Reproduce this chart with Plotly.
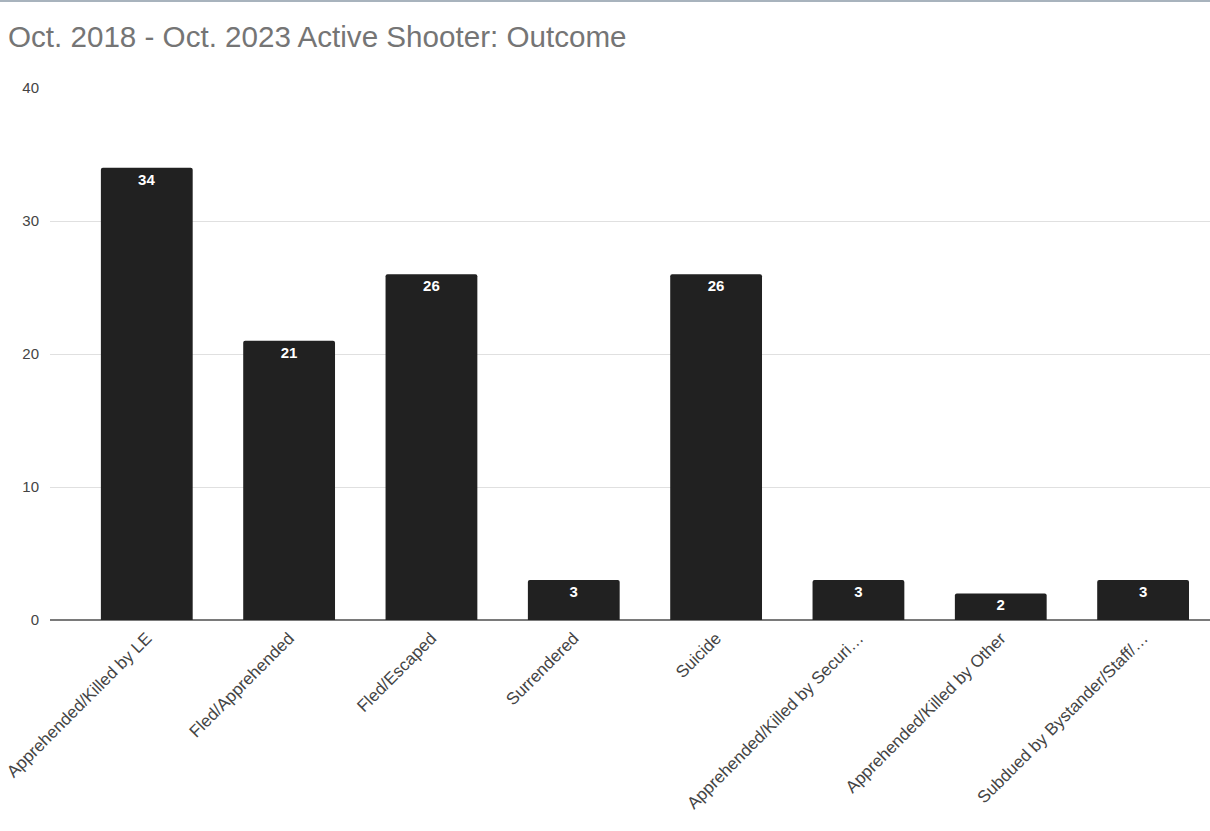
import plotly.graph_objects as go

categories = [
    "Apprehended/Killed by LE",
    "Fled/Apprehended",
    "Fled/Escaped",
    "Surrendered",
    "Suicide",
    "Apprehended/Killed by Securi…",
    "Apprehended/Killed by Other",
    "Subdued by Bystander/Staff/…",
]
counts = [34, 21, 26, 3, 26, 3, 2, 3]
y_ticks = [0, 10, 20, 30, 40]

W, H = 1210, 831
M_L, M_R, M_T, M_B = 50, 0, 88, 211
plot_h = H - M_T - M_B
FONT = "Arial, Liberation Sans, sans-serif"

fig = go.Figure(
    go.Bar(
        x=categories,
        y=counts,
        text=[str(v) for v in counts],
        textposition="inside",
        insidetextanchor="end",
        textangle=0,
        textfont=dict(family=FONT, size=15, color="white", weight="bold"),
        marker=dict(color="#212121", cornerradius=2, line=dict(width=0)),
        width=0.645,
        hoverinfo="x+y",
    )
)

fig.update_layout(
    width=W,
    height=H,
    margin=dict(l=M_L, r=M_R, t=M_T, b=M_B, pad=0),
    paper_bgcolor="white",
    plot_bgcolor="white",
    showlegend=False,
    title=dict(
        text="Oct. 2018 - Oct. 2023 Active Shooter: Outcome",
        font=dict(family=FONT, size=29.6, color="#757575"),
        x=8 / W,
        xanchor="left",
        xref="container",
        y=1 - 37 / H,
        yanchor="middle",
        yref="container",
    ),
    xaxis=dict(
        range=[-0.68, 7.47],
        tickangle=-45,
        tickfont=dict(family=FONT, size=17, color="#444444"),
        showgrid=False,
        showline=False,
        ticks="",
        zeroline=False,
        ticklabelstandoff=4,
    ),
    yaxis=dict(
        range=[0, 40],
        tickvals=y_ticks,
        tickfont=dict(family=FONT, size=15, color="#444444"),
        gridcolor="#e0e0e0",
        gridwidth=1,
        zeroline=True,
        zerolinecolor="#7a7a7a",
        zerolinewidth=2,
        showline=False,
        ticks="",
        ticklabelstandoff=10,
    ),
    shapes=[
        # thin frame strip across the top of the page
        dict(
            type="rect",
            xref="paper",
            yref="paper",
            x0=-M_L / (W - M_L - M_R),
            x1=1.01,
            y0=1 + (M_T - 2) / plot_h,
            y1=1 + (M_T + 2) / plot_h,
            fillcolor="#a8b3bd",
            line=dict(width=0),
        )
    ],
)

fig.write_html("out.html")
